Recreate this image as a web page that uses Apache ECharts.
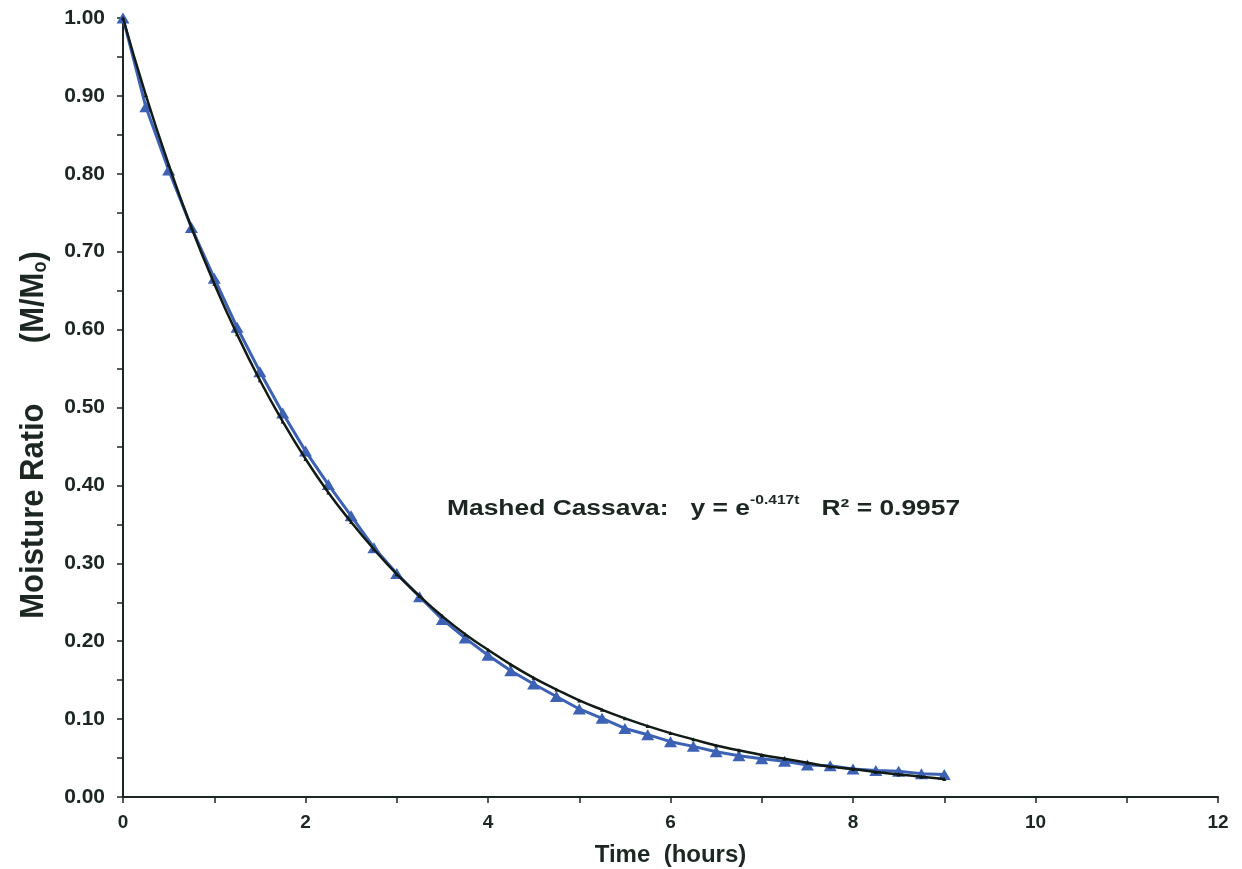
<!DOCTYPE html>
<html>
<head>
<meta charset="utf-8">
<script src="https://cdn.jsdelivr.net/npm/echarts@6/dist/echarts.min.js"></script>
<style>
html,body{margin:0;padding:0;background:#fff;}
#c{width:1242px;height:869px;}
</style>
</head>
<body>
<div id="c"></div>
<script>
// Time (hours)
const timeHours = [0,0.25,0.5,0.75,1,1.25,1.5,1.75,2,2.25,2.5,2.75,3,3.25,3.5,3.75,4,4.25,4.5,4.75,5,5.25,5.5,5.75,6,6.25,6.5,6.75,7,7.25,7.5,7.75,8,8.25,8.5,8.75,9];
// Measured moisture ratio (blue triangles)
const measuredMR = [1.000,0.886,0.805,0.731,0.666,0.603,0.546,0.493,0.444,0.401,0.361,0.320,0.287,0.257,0.228,0.204,0.182,0.162,0.145,0.129,0.113,0.101,0.088,0.080,0.071,0.065,0.058,0.053,0.049,0.046,0.041,0.040,0.036,0.034,0.033,0.030,0.029];
// Fitted curve (black line)
const fittedMR = [1.000,0.901,0.812,0.731,0.659,0.594,0.535,0.482,0.434,0.391,0.353,0.318,0.286,0.258,0.232,0.209,0.189,0.170,0.153,0.138,0.124,0.112,0.101,0.091,0.082,0.074,0.066,0.060,0.054,0.049,0.044,0.039,0.036,0.032,0.029,0.026,0.023];
const xTicks = {min:0, max:12, interval:2};
const yTicks = {min:0, max:1, interval:0.1};

const ink = '#1d2721';
const blue = '#3d62b4';
const font = '"Liberation Sans", Arial, sans-serif';

const chart = echarts.init(document.getElementById('c'), null, {renderer:'canvas'});
chart.setOption({
  backgroundColor:'#ffffff',
  animation:false,
  grid:{left:123, right:24, top:18, bottom:72, containLabel:false, outerBoundsMode:'none'},
  xAxis:{
    type:'value', min:xTicks.min, max:xTicks.max, interval:xTicks.interval,
    axisLine:{show:true, onZero:false, lineStyle:{color:ink, width:2}},
    axisTick:{show:true, length:6, lineStyle:{color:ink, width:1.5}},
    minorTick:{show:true, splitNumber:2, length:6, lineStyle:{color:ink, width:1.5}},
    splitLine:{show:false},
    axisLabel:{color:ink, fontFamily:font, fontWeight:'bold', fontSize:19, margin:16},
    name:'Time  (hours)', nameLocation:'middle', nameGap:46,
    nameTextStyle:{color:ink, fontFamily:font, fontWeight:'bold', fontSize:24}
  },
  yAxis:{
    type:'value', min:yTicks.min, max:yTicks.max, interval:yTicks.interval,
    axisLine:{show:true, lineStyle:{color:ink, width:2}},
    axisTick:{show:true, length:6, lineStyle:{color:ink, width:1.5}},
    minorTick:{show:true, splitNumber:2, length:6, lineStyle:{color:ink, width:1.5}},
    splitLine:{show:false},
    axisLabel:{color:ink, fontFamily:font, fontWeight:'bold', fontSize:21, margin:18,
      formatter:v=>v.toFixed(2)}
  },
  series:[
    {
      type:'line', name:'Measured',
      data:timeHours.map((t,i)=>[t,measuredMR[i]]),
      symbol:'triangle', symbolSize:[13,11], showSymbol:true,
      itemStyle:{color:blue},
      lineStyle:{color:blue, width:3},
      z:2
    },
    {
      type:'line', name:'Fit',
      data:timeHours.map((t,i)=>[t,fittedMR[i]]),
      smooth:true,
      symbol:'triangle', symbolSize:4, showSymbol:true,
      itemStyle:{color:'#111a14'},
      lineStyle:{color:'#111a14', width:2.5},
      z:3
    }
  ],
  graphic:[
    {
      type:'text', x:31, y:435, rotation:Math.PI/2, scaleY:1.1,
      style:{
        text:'{a|Moisture Ratio       (M/M}{s|o}{a|)}',
        align:'center', verticalAlign:'middle',
        rich:{
          a:{fontFamily:font, fontWeight:'bold', fontSize:31, fill:ink, lineHeight:36, verticalAlign:'bottom'},
          s:{fontFamily:font, fontWeight:'bold', fontSize:18, fill:ink, lineHeight:36, verticalAlign:'bottom'}
        }
      }
    },
    {
      type:'text', x:447, y:507, scaleX:1.2,
      style:{
        text:'{a|Mashed Cassava:   y = e}{s|-0.417t}{a|   R² = 0.9957}',
        align:'left', verticalAlign:'middle',
        rich:{
          a:{fontFamily:font, fontWeight:'bold', fontSize:22, fill:ink, lineHeight:26, verticalAlign:'bottom'},
          s:{fontFamily:font, fontWeight:'bold', fontSize:13, fill:ink, lineHeight:26, verticalAlign:'top'}
        }
      }
    }
  ]
});
</script>
</body>
</html>
